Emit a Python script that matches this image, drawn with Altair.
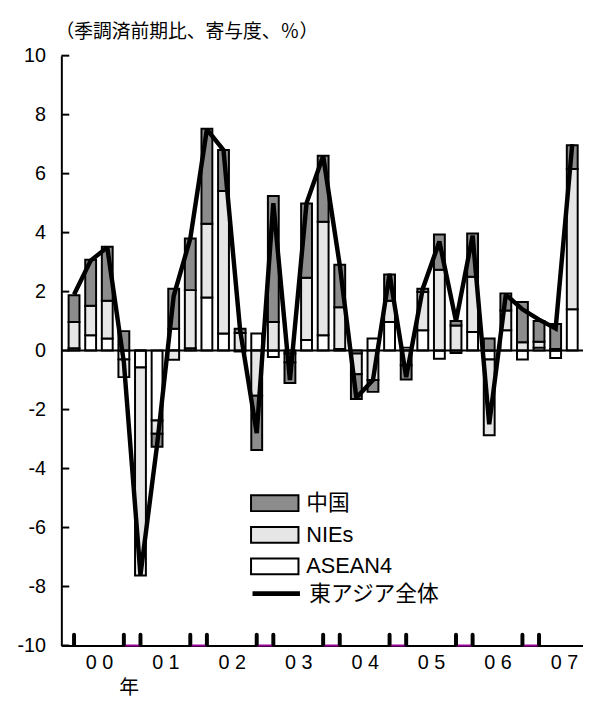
import altair as alt
import pandas as pd

# ---- data ----
quarters = list(range(1, 32))  # 2000Q1 .. 2007Q3
asean = [0.08, 0.52, 0.41, -0.30, -0.57, -2.37, 0.74, 0.08, 1.80, 0.58,
         -0.03, 0.58, -0.22, -0.10, 0.36, 0.52, 0.05, -0.10, 0.41, 0.97,
         0.10, 0.69, -0.28, -0.08, 0.63, -0.30, 0.69, -0.30, 0.10, -0.25, 1.40]
nies = [0.89, 1.00, 1.28, -0.60, -7.06, -0.45, -0.31, 1.97, 2.50, 4.83,
        0.60, -1.53, 0.97, -0.30, 2.11, 3.85, 1.42, -0.70, -1.00, 0.72,
        -0.50, 1.30, 2.74, 0.85, 1.87, -2.57, 0.67, 0.28, 0.20, 0.05, 4.76]
china = [0.91, 1.56, 1.83, 0.66, 0.00, -0.44, 1.36, 1.75, 3.22, 1.39,
         0.14, -1.84, 4.27, -0.70, 2.52, 2.24, 1.44, -0.84, -0.40, 0.89,
         -0.48, 0.11, 1.20, 0.15, 1.47, 0.41, 0.58, 1.37, 0.70, 0.85, 0.80]
total = [1.90, 3.05, 3.50, -0.40, -7.60, -3.20, 1.85, 3.80, 7.50, 6.80,
         0.70, -2.80, 5.00, -1.00, 5.00, 6.60, 2.90, -1.60, -1.00, 2.60,
         -0.90, 2.10, 3.70, 1.00, 3.90, -2.50, 1.90, 1.40, 1.05, 0.75, 7.00]

series_names = ["中国", "NIEs", "ASEAN4"]
line_name = "東アジア全体"
year_labels = ["00", "01", "02", "03", "04", "05", "06", "07"]
year_centers = [2.5, 6.5, 10.5, 14.5, 18.5, 22.5, 26.5, 30.5]
y_ticks = [-10, -8, -6, -4, -2, 0, 2, 4, 6, 8, 10]
axis_marks = [1, 4, 5, 8, 9, 12, 13, 16, 17, 20, 21, 24, 25, 28, 29]
pair_start = [4, 8, 12, 16, 20, 24, 28]
pair_end = [5, 9, 13, 17, 21, 25, 29]
title_text = "（季調済前期比、寄与度、％）"
x_title = "年"

# ---- tables ----
rows = []
for i, q in enumerate(quarters):
    rows.append({"q": q, "series": "ASEAN4", "value": asean[i], "ord": 0})
    rows.append({"q": q, "series": "NIEs", "value": nies[i], "ord": 1})
    rows.append({"q": q, "series": "中国", "value": china[i], "ord": 2})
bars_df = pd.DataFrame(rows)
line_df = pd.DataFrame({"q": quarters, "total": total, "name": [line_name] * len(quarters)})
yt_df = pd.DataFrame({"t": y_ticks})
xm_df = pd.DataFrame({"q": axis_marks})
pair_df = pd.DataFrame({"a": pair_start, "b": pair_end})
zero_df = pd.DataFrame({"z": [0]})

W, H = 528, 597
x_scale = alt.Scale(domain=[0.533, 31.35], nice=False, zero=False)
y_scale = alt.Scale(domain=[-10, 10], nice=False)

spaced = [" ".join(list(s)) for s in year_labels]
label_expr = "[" + ",".join("'" + s + "'" for s in spaced) + "][floor(datum.value / 4)]"

num_font = "Liberation Sans"
cjk_font = "Noto Sans CJK JP"
legend_font = "Liberation Sans Narrow, Liberation Sans, Noto Sans CJK JP"

bars = alt.Chart(bars_df).mark_bar(size=11, stroke="black", strokeWidth=2).encode(
    x=alt.X("q:Q", scale=x_scale,
            axis=alt.Axis(values=year_centers, labelExpr=label_expr, ticks=False, grid=False,
                          domainColor="black", domainWidth=2, labelFontSize=20, labelFont=num_font,
                          labelColor="black", labelPadding=7, labelFlush=False,
                          title=x_title, titleX=68, titleY=43, titleFontSize=20, titleFont=cjk_font,
                          titleFontWeight="normal", titleColor="black", titleBaseline="middle",
                          titleAlign="center")),
    y=alt.Y("value:Q", stack="zero", scale=y_scale,
            axis=alt.Axis(values=y_ticks, ticks=False, grid=False, domainColor="black", domainWidth=2,
                          labelFontSize=20, labelFont=num_font, labelColor="black", labelPadding=16,
                          labelExpr="'' + datum.value", title=None)),
    fill=alt.Fill("series:N", scale=alt.Scale(domain=series_names, range=["#8c8c8c", "#e6e6e6", "#ffffff"]),
                  legend=alt.Legend(title=None, orient="none", legendX=205, legendY=442,
                                    symbolType="M-2.4,-0.8H2.4V0.8H-2.4Z", symbolSize=400,
                                    symbolStrokeColor="black", symbolStrokeWidth=2, symbolOpacity=1,
                                    labelFontSize=22, labelFont=legend_font, labelColor="black",
                                    labelOffset=21, rowPadding=8, padding=0)),
    order=alt.Order("ord:Q"),
)

zero = alt.Chart(zero_df).mark_rule(color="black", strokeWidth=2).encode(y=alt.Y("z:Q", scale=y_scale))

line = alt.Chart(line_df).mark_line(strokeWidth=4.5, strokeJoin="miter", strokeMiterLimit=2).encode(
    x=alt.X("q:Q", scale=x_scale),
    y=alt.Y("total:Q", scale=y_scale),
    stroke=alt.Stroke("name:N", scale=alt.Scale(domain=[line_name], range=["black"]),
                      legend=alt.Legend(title=None, orient="none", legendX=205, legendY=532,
                                        symbolType="M-2.4,0H2.4", symbolSize=400,
                                        symbolStrokeWidth=5, labelFontSize=22, labelFont=legend_font,
                                        labelColor="black", labelOffset=21, padding=0)),
)

yticks = alt.Chart(yt_df).mark_rule(color="black", strokeWidth=2).encode(
    y=alt.Y("t:Q", scale=y_scale), x=alt.value(0), x2=alt.value(8))

purple = alt.Chart(pair_df).mark_rule(color="#990099", strokeWidth=2).encode(
    x=alt.X("a:Q", scale=x_scale), x2="b:Q", y=alt.value(H))

xmarks = alt.Chart(xm_df).mark_rule(color="black", strokeWidth=4, strokeCap="round").encode(
    x=alt.X("q:Q", scale=x_scale), y=alt.value(H - 11), y2=alt.value(H - 1))

chart = alt.layer(bars, zero, line, yticks, purple, xmarks).properties(
    width=W, height=H,
    title=alt.Title(title_text, anchor="start", frame="group", fontSize=19, font=cjk_font,
                    fontWeight="normal", color="black", offset=4, dx=-6),
    padding={"left": 54, "top": 44, "right": 0, "bottom": 58},
    autosize=alt.AutoSizeParams(type="none"),
).resolve_scale(fill="independent", stroke="independent").configure_view(stroke=None)

chart.save("out.html", embed_options={"renderer": "svg", "actions": False})
